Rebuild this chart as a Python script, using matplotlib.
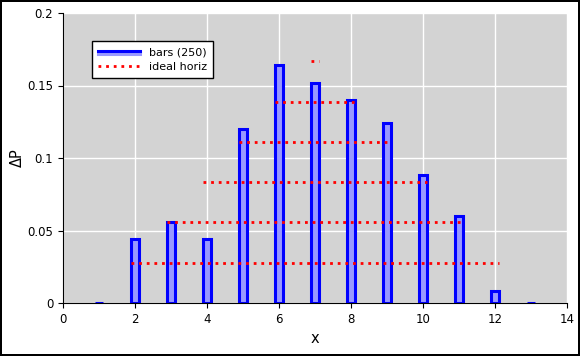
import matplotlib
matplotlib.use("Agg")
import matplotlib.pyplot as plt
import matplotlib.patheffects as pe
from matplotlib.lines import Line2D

# Данные: частоты сумм двух кубиков (250 бросков)
sums = [1, 2, 3, 4, 5, 6, 7, 8, 9, 10, 11, 12, 13]
freqs = [0.0, 0.044, 0.056, 0.044, 0.12, 0.164, 0.152, 0.14, 0.124, 0.088, 0.06, 0.008, 0.0]

# Идеальные уровни k/36 и их горизонтальные отрезки
ideal_levels = [1 / 36, 2 / 36, 3 / 36, 4 / 36, 5 / 36, 6 / 36]
ideal_start = [1.89, 2.89, 3.89, 4.89, 5.89, 6.88]
ideal_end = [12.11, 11.11, 10.11, 9.11, 8.11, 7.12]

DOTS = (0, (1, 1.75))

fig = plt.figure(figsize=(5.8, 3.56), dpi=100)
fig.patch.set_edgecolor("black")
fig.patch.set_linewidth(1.5)
ax = fig.add_axes([63 / 580, 1 - 303 / 356, 504 / 580, 290 / 356])
ax.set_facecolor("#d3d3d3")
ax.grid(True, color="white", linewidth=1)
ax.set_axisbelow(True)

ax.bar(sums, freqs, width=0.2, color="#9999ff", edgecolor="blue", linewidth=2.2, zorder=2)
for lvl, x0, x1 in zip(ideal_levels, ideal_start, ideal_end):
    ax.plot([x0, x1], [lvl, lvl], color="red", linestyle=DOTS, linewidth=2, zorder=3)

ax.set_xlim(0, 14)
ax.set_ylim(0, 0.2)
ax.set_xticks(range(0, 15, 2))
ax.set_yticks([0, 0.05, 0.1, 0.15, 0.2])
ax.set_yticklabels(["0", "0.05", "0.1", "0.15", "0.2"])
ax.tick_params(labelsize=8.5)
for side in ["top", "right"]:
    ax.spines[side].set_visible(False)
ax.set_xlabel("x", fontsize=10.5)
ax.set_ylabel("ΔP", fontsize=10.5, labelpad=2)

bar_handle = Line2D([], [], color="blue", linewidth=2.2,
                    path_effects=[pe.Stroke(offset=(0, -2), linewidth=2.2, foreground="#9999ff"),
                                  pe.Normal()])
handles = [
    bar_handle,
    Line2D([], [], color="red", linestyle=DOTS, linewidth=2),
]
leg = ax.legend(handles, ["bars (250)", "ideal horiz"], loc="upper left",
                bbox_to_anchor=(0.0575, 0.903), fontsize=8, fancybox=False,
                framealpha=1, edgecolor="black", borderaxespad=0,
                handlelength=3.8, borderpad=0.55, labelspacing=0.4)
leg.get_frame().set_linewidth(1)

fig.savefig("out.png", dpi=100)
